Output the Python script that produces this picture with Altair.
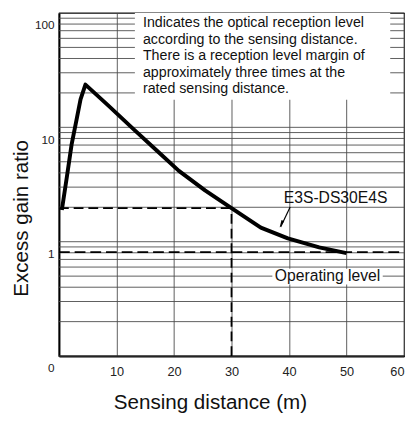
import altair as alt
import pandas as pd

# ---- data ----
distance_m = [0.5, 1.35, 2.2, 3.05, 3.75, 4.6, 8.5, 13.05, 16.95, 20.85,
              25.4, 30.0, 35.1, 39.8, 45.25, 50.0]
excess_gain = [2.34, 4.48, 8.76, 14.35, 21.7, 29.2, 19.3, 11.8, 7.79, 5.14,
               3.47, 2.43, 1.64, 1.32, 1.10, 0.98]

rated_distance = 30.0
rated_gain = 2.43
operating_level = 1.0

x_ticks = [10, 20, 30, 40, 50, 60]
y_label_values = [0.1, 1, 10, 100]
grid_values = [0.1, 0.2, 0.3, 0.4, 0.5, 0.6, 0.7, 0.8, 0.9,
               1, 2, 3, 4, 5, 6, 7, 8, 9,
               10, 20, 30, 40, 50, 60, 70, 80, 90, 100]

note_lines = ["Indicates the optical reception level",
              "according to the sensing distance.",
              "There is a reception level margin of",
              "approximately three times at the",
              "rated sensing distance."]
model_label = "E3S-DS30E4S"
operating_label = "Operating level"

# annotation anchors (data units)
note_pos = {"x": 14.6, "y": 100.0}
model_pos = {"x": 48.1, "y": 2.96}
operating_pos = {"x": 46.7, "y": 0.623}
arrow_seg = {"x": 40.2, "y": 2.48, "x2": 38.55, "y2": 1.66}
arrow_head = {"x": 38.65, "y": 1.76}
white_boxes = pd.DataFrame({"x": [13.2, 37.1], "x2": [57.6, 56.3],
                            "y": [21.5, 0.521], "y2": [123.5, 0.715]})

# ---- scales ----
GRID_COLOR = "#4a4a4a"
FONT = "Liberation Sans"
xs = alt.Scale(domain=[0, 60], nice=False, zero=False)
grid_scale = alt.Scale(type="log", domain=[0.1, 100], nice=False)
data_scale = alt.Scale(type="log", domain=[0.1235, 123.5], nice=False)

xaxis = alt.Axis(values=x_ticks, grid=True, gridColor=GRID_COLOR, gridWidth=0.9,
                 ticks=False, domainColor="black", domainWidth=2,
                 labelPadding=10, labelFontSize=13, labelFlush=True,
                 labelOverlap=False, format="d",
                 title="Sensing distance (m)", titleFontSize=21,
                 titleFontWeight="normal", titleX=154, titleY=54,
                 titleBaseline="alphabetic", titleAlign="center")

yaxis = alt.Axis(values=y_label_values, grid=False, ticks=False,
                 domainColor="black", domainWidth=2,
                 labelExpr="datum.value < 0.5 ? '0' : format(datum.value, 'd')",
                 labelOffset=12, labelPadding=5, labelFontSize=12,
                 labelOverlap=False,
                 title="Excess gain ratio", titleFontSize=21,
                 titleFontWeight="normal", titleX=-32, titleY=209,
                 titleAngle=270, titleBaseline="alphabetic", titleAlign="center")

# ---- grid layer (log paper) ----
grid_layer = alt.Chart(pd.DataFrame({"g": grid_values})).mark_rule(
    color=GRID_COLOR, strokeWidth=0.9
).encode(y=alt.Y("g:Q", scale=grid_scale, axis=yaxis))

# ---- data layers ----
def X(f):
    return alt.X(f, type="quantitative", scale=xs, axis=xaxis)

def Y(f):
    return alt.Y(f, type="quantitative", scale=data_scale, axis=None)

boxes = alt.Chart(white_boxes).mark_rect(fill="white", stroke=None).encode(
    x=X("x"), x2="x2", y=Y("y"), y2="y2")

rated_df = pd.DataFrame({"x": [0, rated_distance], "x2": [rated_distance, rated_distance],
                         "y": [rated_gain, 0.1235], "y2": [rated_gain, rated_gain]})
rated = alt.Chart(rated_df).mark_rule(color="black", strokeWidth=1.8,
                                      strokeDash=[10, 5]).encode(
    x=X("x"), x2="x2", y=Y("y"), y2="y2")

op_df = pd.DataFrame({"x": [0], "x2": [60], "y": [operating_level]})
oper = alt.Chart(op_df).mark_rule(color="black", strokeWidth=1.8,
                                  strokeDash=[11, 5]).encode(
    x=X("x"), x2="x2", y=Y("y"))

curve_df = pd.DataFrame({"d": distance_m, "g": excess_gain})
curve = alt.Chart(curve_df).mark_line(color="black", strokeWidth=4,
                                      strokeJoin="round").encode(
    x=X("d"), y=Y("g"))

arrow = alt.Chart(pd.DataFrame([arrow_seg])).mark_rule(
    color="black", strokeWidth=1.2).encode(x=X("x"), x2="x2", y=Y("y"), y2="y2")
head = alt.Chart(pd.DataFrame([arrow_head])).mark_point(
    shape="M 0 -1 L 0.4 1 L -0.4 1 Z", size=60, angle=205,
    filled=True, color="black", opacity=1).encode(x=X("x"), y=Y("y"))

note = alt.Chart(pd.DataFrame([note_pos])).mark_text(
    text=note_lines, align="left", baseline="middle", fontSize=14.5,
    lineHeight=16.8, font=FONT, color="#111").encode(x=X("x"), y=Y("y"))
model = alt.Chart(pd.DataFrame([model_pos])).mark_text(
    text=model_label, align="center", baseline="middle", fontSize=16,
    font=FONT, color="#111").encode(x=X("x"), y=Y("y"))
oplab = alt.Chart(pd.DataFrame([operating_pos])).mark_text(
    text=operating_label, align="center", baseline="middle", fontSize=16,
    font=FONT, color="#111").encode(x=X("x"), y=Y("y"))

data_layers = alt.layer(boxes, rated, oper, curve, arrow, head, note, model, oplab)

chart = alt.layer(grid_layer, data_layers).resolve_scale(y="independent").properties(
    width=352, height=350,
    autosize=alt.AutoSizeParams(type="none"),
    padding={"left": 52, "top": 1, "right": 1, "bottom": 54},
    background="white",
).configure_view(stroke="black", strokeWidth=1.2).configure_axis(
    labelFont=FONT, titleFont=FONT, labelColor="#222", titleColor="#111")

chart.save("out.html", embed_options={"renderer": "svg", "actions": False})
